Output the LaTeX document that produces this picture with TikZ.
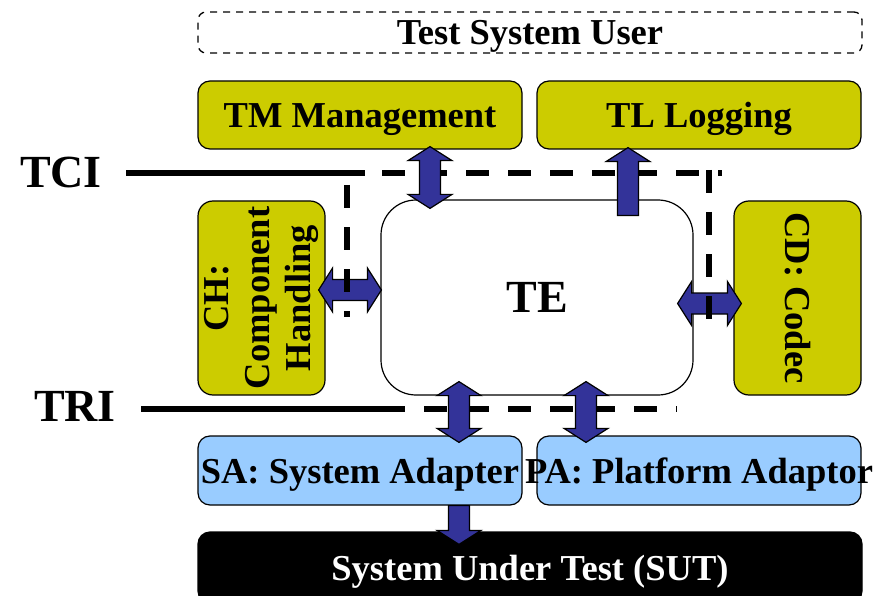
\documentclass[tikz,border=0pt]{standalone}
\usepackage{fontspec}
\setmainfont{Liberation Serif}
\usepackage{graphicx}
\usetikzlibrary{calc}

\definecolor{boxyellow}{RGB}{204,204,0}
\definecolor{boxblue}{RGB}{153,204,255}
\definecolor{arrowblue}{RGB}{51,51,153}

\newcommand{\boxfont}{\fontsize{36.5}{41}\selectfont\bfseries}
\newcommand{\bigfont}{\fontsize{46}{52}\selectfont\bfseries}

% fat block arrows, x (or y) taken from the first point
\newcommand{\vdarrow}[2]{%
  \filldraw[fatarrow] let \p1=(#1), \p2=(#2) in
    (\x1,\y1) -- (\x1+22pt,\y1-14pt) -- (\x1+10.5pt,\y1-14pt) -- (\x1+10.5pt,\y2+14pt)
    -- (\x1+22pt,\y2+14pt) -- (\x1,\y2) -- (\x1-22pt,\y2+14pt) -- (\x1-10.5pt,\y2+14pt)
    -- (\x1-10.5pt,\y1-14pt) -- (\x1-22pt,\y1-14pt) -- cycle;}
\newcommand{\hdarrow}[2]{%
  \filldraw[fatarrow] let \p1=(#1), \p2=(#2) in
    (\x1,\y1) -- (\x1+14pt,\y1+22pt) -- (\x1+14pt,\y1+10.5pt) -- (\x2-14pt,\y1+10.5pt)
    -- (\x2-14pt,\y1+22pt) -- (\x2,\y1) -- (\x2-14pt,\y1-22pt) -- (\x2-14pt,\y1-10.5pt)
    -- (\x1+14pt,\y1-10.5pt) -- (\x1+14pt,\y1-22pt) -- cycle;}
\newcommand{\fatup}[2]{%
  \filldraw[fatarrow] let \p1=(#1), \p2=(#2) in
    (\x1-10.5pt,\y1) -- (\x1-10.5pt,\y2-14pt) -- (\x1-22pt,\y2-14pt) -- (\x1,\y2)
    -- (\x1+22pt,\y2-14pt) -- (\x1+10.5pt,\y2-14pt) -- (\x1+10.5pt,\y1) -- cycle;}
\newcommand{\fatdown}[2]{%
  \filldraw[fatarrow] let \p1=(#1), \p2=(#2) in
    (\x1-10.5pt,\y1) -- (\x1-10.5pt,\y2+14pt) -- (\x1-22pt,\y2+14pt) -- (\x1,\y2)
    -- (\x1+22pt,\y2+14pt) -- (\x1+10.5pt,\y2+14pt) -- (\x1+10.5pt,\y1) -- cycle;}

\tikzset{
  unit/.style={draw, line width=1.2pt, rounded corners=12pt, inner sep=0pt,
    minimum width=324pt, minimum height=68pt, font=\boxfont,
    text height=25pt, text depth=0pt},
  tmbox/.style={unit, fill=boxyellow},
  adbox/.style={unit, fill=boxblue, minimum height=69pt},
  side/.style={draw, line width=1.2pt, rounded corners=15pt, fill=boxyellow,
    inner sep=0pt, minimum width=127pt, minimum height=194pt, font=\boxfont},
  fatarrow/.style={fill=arrowblue, draw=black, line width=1.2pt},
  ifline/.style={line width=6pt},
  ifdash/.style={line width=6pt, dash pattern=on 23pt off 19pt},
}

\begin{document}
\begin{tikzpicture}[x=1pt, y=-1pt]
  \clip (0,0) rectangle (875,596);
  \node[unit, minimum width=664pt, minimum height=41pt, rounded corners=8pt,
    line width=1.3pt, dash pattern=on 7pt off 6pt] (user) at (530,32.5) {Test System User};
  \node[tmbox] (tm) at (360,115) {TM Management};
  \node[tmbox] (tl) at (699,115) {TL Logging};
  \node[side] (ch) at (261.5,298)
    {\rotatebox{90}{\begin{tabular}{@{}c@{}}CH:\\Component\\Handling\end{tabular}}};
  \node[draw, line width=1.2pt, fill=white, rounded corners=35pt, minimum width=312pt,
    minimum height=195pt, inner sep=0pt, font=\bigfont] (te) at (537,297.5) {TE};
  \node[side] (cd) at (797.5,298) {\rotatebox{-90}{CD: Codec}};
  \node[adbox] (sa) at (360,470.5) {SA: System Adapter};
  \node[adbox] (pa) at (699,470.5) {\makebox[0pt]{PA: Platform Adaptor}};
  \node[unit, fill=black, text=white, minimum width=664pt, minimum height=71pt]
    (sut) at (530,567.5) {System Under Test (SUT)};

  % interfaces
  \node[font=\bigfont, inner sep=0pt] (tci) at (61,172) {TCI};
  \node[font=\bigfont, inner sep=0pt] (tri) at (75,406) {TRI};
  \coordinate (tcijoin) at (365,173);
  \coordinate (tcidash) at (382,173);
  \coordinate (tciend) at (722,173);
  \coordinate (trijoin) at (382,409);
  \coordinate (triend) at (677,409);
  \draw[ifline] ([xshift=24pt]tci.east |- tcijoin) -- (tcijoin);
  \draw[ifdash] (tcidash) -- (tciend);
  \draw[ifline] ([xshift=25pt]tri.east |- trijoin) -- (trijoin);
  \draw[ifdash] (trijoin) -- (triend);

  \vdarrow{[xshift=70pt,yshift=3pt]tm.south}{[yshift=-9pt]te.north}
  \fatup{[xshift=91pt,yshift=-16pt]te.north}{[yshift=2pt]tl.south}
  \hdarrow{[xshift=-7pt,yshift=8pt]ch.east}{[xshift=1pt]te.west}
  \hdarrow{[xshift=-16pt,yshift=-6pt]te.east}{[xshift=8pt]cd.west}
  \vdarrow{[xshift=-78pt,yshift=14pt]te.south}{[yshift=-7pt]sa.north}
  \vdarrow{[xshift=49pt,yshift=14pt]te.south}{[yshift=-7pt]pa.north}
  \fatdown{[xshift=99pt]sa.south}{[yshift=-13pt]sut.north}

  \coordinate (chtop) at (347,185);
  \coordinate (chbot) at (347,317);
  \coordinate (cdtop) at (709,170);
  \coordinate (cdbot) at (709,320);
  \draw[ifdash] (chtop) -- (chbot);
  \draw[ifdash] (cdtop) -- (cdbot);
\end{tikzpicture}
\end{document}
